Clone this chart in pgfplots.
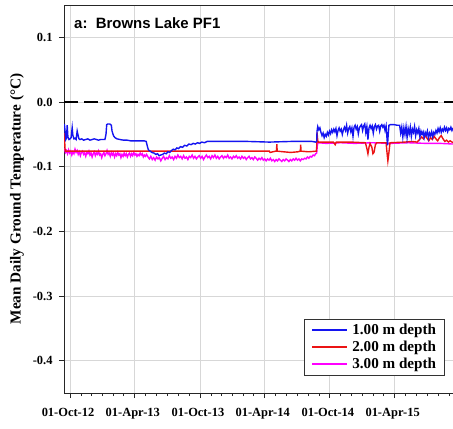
\documentclass[border=0pt]{standalone}
\usepackage{fontspec}
\setmainfont{Liberation Serif}
\newfontfamily\arialfont{Liberation Sans}
\usepackage{pgfplots}
\pgfplotsset{compat=1.18}
\definecolor{gridgray}{RGB}{215,215,215}
\definecolor{sblue}{RGB}{20,20,240}
\definecolor{sred}{RGB}{235,20,20}
\definecolor{smag}{RGB}{255,0,255}
\begin{document}
\begin{tikzpicture}
\useasboundingbox (0,0) rectangle (453bp,429bp);
\begin{axis}[
  at={(64bp,36bp)}, anchor=south west,
  width=389bp, height=388bp, scale only axis,
  xmin=-17, xmax=1076, ymin=-0.45, ymax=0.15,
  axis x line*=bottom, axis y line*=left,
  axis line style={-, black!85, line width=0.9pt},
  xtick={0,182,365,547,730,912},
  xticklabels={01-Oct-12,01-Apr-13,01-Oct-13,01-Apr-14,01-Oct-14,01-Apr-15},
  minor xtick={31,61,92,123,151,212,243,273,304,335,396,426,457,488,516,577,608,638,669,700,761,791,822,853,881,942,973,1003,1034,1065},
  ytick={-0.4,-0.3,-0.2,-0.1,0,0.1},
  yticklabels={-0.4,-0.3,-0.2,-0.1,0.0,0.1},
  tick label style={font=\fontsize{12.5}{14}\selectfont\bfseries},
  yticklabel style={xshift=-3bp},
  xticklabel style={yshift=-6.5bp, xshift=-2bp},
  tick align=outside, major tick length=5bp, minor tick length=3bp,
  tick style={black!85, line width=0.8pt},
  grid=major, major grid style={gridgray, line width=0.8pt},
  ylabel={Mean Daily Ground Temperature (°C)},
  ylabel style={at={(axis description cs:0,0.5)}, anchor=center, yshift=47bp, font=\fontsize{15.3}{17}\selectfont\bfseries},
  legend style={at={(1,0)}, anchor=south east, xshift=-8bp, yshift=17bp,
    draw=black!80, line width=0.8pt, font=\fontsize{15.2}{17}\selectfont\bfseries,
    inner xsep=7bp, inner ysep=2.5bp,
    nodes={text height=10.5bp, text depth=3.5bp, inner sep=1.5bp}},
  legend cell align=left,
  legend image code/.code={\draw[#1, line width=1.8bp] (0bp,0.6bp) -- (35bp,0.6bp); \path (38bp,0bp);},
  reverse legend,
]
\addplot[black, line width=2.6bp, dash pattern=on 14bp off 6bp, forget plot] coordinates {(-17,0) (1076,0)};

% 3.00 m depth
\addplot[smag, line width=1.4bp] coordinates {
(-16,-0.071) (-13,-0.078) (-10,-0.075) (-7,-0.080) (-4,-0.074) (-1,-0.079) (2,-0.076) (5,-0.082) (8,-0.077) (11,-0.080) (14,-0.073) (17,-0.078) (20,-0.075) (23,-0.081) (26,-0.077) (29,-0.083) (32,-0.078) (35,-0.076) (38,-0.081) (41,-0.079) (44,-0.084) (47,-0.078) (50,-0.080) (53,-0.076) (56,-0.082) (59,-0.079) (62,-0.085) (65,-0.080) (68,-0.077) (71,-0.083) (74,-0.079) (77,-0.081) (80,-0.076) (83,-0.082) (86,-0.080) (89,-0.086) (92,-0.081) (95,-0.078) (98,-0.083) (101,-0.080) (104,-0.075) (107,-0.081) (110,-0.079) (113,-0.084) (116,-0.078) (119,-0.082) (122,-0.079) (125,-0.085) (128,-0.080) (131,-0.083) (134,-0.078) (137,-0.082) (140,-0.080) (143,-0.086) (146,-0.081) (149,-0.084) (152,-0.079) (155,-0.083) (158,-0.080) (161,-0.085) (164,-0.081) (167,-0.079) (170,-0.084) (173,-0.080) (176,-0.083) (179,-0.078) (182,-0.082) (185,-0.080) (188,-0.084) (191,-0.081) (194,-0.083) (197,-0.079) (200,-0.082) (203,-0.080) (206,-0.085) (209,-0.082) (212,-0.084) (215,-0.081)
(219,-0.085) (223,-0.088) (227,-0.084) (231,-0.089) (235,-0.086) (239,-0.090) (243,-0.085) (247,-0.088) (251,-0.086) (255,-0.091) (259,-0.087) (263,-0.084) (267,-0.089) (271,-0.086) (275,-0.088) (279,-0.083) (283,-0.087) (287,-0.085) (291,-0.089) (295,-0.084) (299,-0.087) (303,-0.082) (307,-0.086) (311,-0.084) (315,-0.088) (319,-0.083) (323,-0.087) (327,-0.085) (331,-0.089) (335,-0.084) (339,-0.086) (343,-0.082) (347,-0.087) (351,-0.084) (355,-0.088) (359,-0.085) (363,-0.083) (367,-0.087) (371,-0.084) (375,-0.089) (379,-0.085) (383,-0.082) (387,-0.086) (391,-0.084) (395,-0.088) (399,-0.083) (403,-0.086) (407,-0.082) (411,-0.087) (415,-0.084) (419,-0.088) (423,-0.085) (427,-0.083) (431,-0.087) (435,-0.084) (439,-0.086) (443,-0.082) (447,-0.087) (451,-0.085) (455,-0.088) (459,-0.084) (463,-0.086) (467,-0.083) (471,-0.087) (475,-0.085) (479,-0.088)
(483,-0.084) (487,-0.087) (491,-0.085) (495,-0.089) (499,-0.086) (503,-0.084) (507,-0.088) (511,-0.086) (515,-0.089) (519,-0.085) (523,-0.087) (527,-0.090) (531,-0.087) (535,-0.089) (539,-0.086) (543,-0.090) (547,-0.088) (551,-0.091) (555,-0.088) (559,-0.090) (563,-0.087) (567,-0.091) (571,-0.089) (575,-0.092) (579,-0.089) (583,-0.091) (587,-0.088) (591,-0.090) (595,-0.092) (599,-0.089) (603,-0.091) (607,-0.088) (611,-0.090) (615,-0.092) (619,-0.089) (623,-0.091) (627,-0.088) (631,-0.090) (635,-0.087) (639,-0.090) (643,-0.088) (647,-0.091) (651,-0.088) (655,-0.089) (659,-0.087) (663,-0.088) (667,-0.085) (671,-0.087) (675,-0.084) (679,-0.085) (683,-0.082) (687,-0.083) (690,-0.080) (693,-0.079) (695,-0.066) (697,-0.063)
(720,-0.064) (760,-0.063) (800,-0.064) (850,-0.063) (900,-0.064) (950,-0.063) (1000,-0.064) (1040,-0.064) (1076,-0.065)
};
\addlegendentry{3.00 m depth}

% 2.00 m depth
\addplot[sred, line width=1.4bp] coordinates {
(-16,-0.048) (-15,-0.062) (-14,-0.073) (-13,-0.076) (300,-0.076) (560,-0.076) (562,-0.078) (570,-0.077) (578,-0.076) (580,-0.076) (581,-0.065) (582,-0.076) (600,-0.077) (620,-0.078) (640,-0.077) (647,-0.076) (648,-0.066) (649,-0.076) (670,-0.077) (692,-0.076) (693,-0.070) (694,-0.047) (696,-0.060) (698,-0.062)
(700,-0.062) (740,-0.062) (745,-0.066) (748,-0.062) (790,-0.062) (830,-0.063) (834,-0.072) (837,-0.080) (840,-0.070) (843,-0.064) (848,-0.070) (851,-0.080) (854,-0.078) (858,-0.066) (862,-0.063) (888,-0.063) (890,-0.075) (893,-0.091) (896,-0.078) (899,-0.063) (940,-0.062) (960,-0.061)
(975,-0.062) (982,-0.058) (988,-0.054) (993,-0.057) (998,-0.052) (1003,-0.056) (1008,-0.060) (1013,-0.055) (1018,-0.058) (1023,-0.053) (1028,-0.057) (1033,-0.060) (1038,-0.055) (1043,-0.052) (1048,-0.057) (1053,-0.061) (1058,-0.059) (1063,-0.062) (1068,-0.060) (1076,-0.063)
};
\addlegendentry{2.00 m depth}

% 1.00 m depth
\addplot[sblue, line width=1.4bp] coordinates {
(-16,-0.034) (-14,-0.045) (-12,-0.058) (-10,-0.056) (-8,-0.036) (-6,-0.054) (-3,-0.058) (0,-0.057) (3,-0.055) (6,-0.040) (8,-0.052) (11,-0.057) (14,-0.056) (17,-0.058) (20,-0.045) (22,-0.050) (25,-0.057) (28,-0.058) (33,-0.057) (38,-0.059) (44,-0.058) (50,-0.057) (56,-0.059) (62,-0.058) (68,-0.057) (74,-0.058) (80,-0.059) (86,-0.058) (92,-0.058) (98,-0.058) (101,-0.050) (103,-0.035) (106,-0.034) (112,-0.034) (116,-0.036) (118,-0.045) (122,-0.052) (126,-0.055) (132,-0.057) (140,-0.058) (150,-0.059) (160,-0.059) (170,-0.060) (180,-0.060) (190,-0.060) (200,-0.060) (208,-0.060) (214,-0.061)
(217,-0.068) (220,-0.074) (225,-0.076) (230,-0.078) (236,-0.079) (241,-0.081) (246,-0.080) (250,-0.083) (255,-0.082) (260,-0.081) (265,-0.079) (270,-0.080) (275,-0.077) (280,-0.078) (285,-0.075) (290,-0.073) (295,-0.074) (300,-0.071) (305,-0.072) (310,-0.069) (316,-0.070) (322,-0.067) (328,-0.068) (334,-0.065) (340,-0.066) (346,-0.064) (352,-0.065) (358,-0.063) (364,-0.064) (370,-0.062) (378,-0.063) (385,-0.061) (420,-0.061) (500,-0.061) (560,-0.062) (620,-0.061) (680,-0.061) (690,-0.062)
(693,-0.061) (694,-0.045) (696,-0.038) (699,-0.043) (702,-0.040) (705,-0.047) (708,-0.052) (711,-0.048) (714,-0.055) (717,-0.050) (720,-0.053) (723,-0.047) (726,-0.051) (729,-0.045) (732,-0.049) (735,-0.043) (738,-0.047) (741,-0.042) (744,-0.046) (747,-0.041) (750,-0.052) (753,-0.044) (756,-0.040) (759,-0.045) (762,-0.042) (765,-0.050) (768,-0.043) (771,-0.039) (774,-0.044) (777,-0.036) (780,-0.048) (783,-0.041) (786,-0.038) (789,-0.046) (792,-0.040) (795,-0.053) (798,-0.039) (801,-0.036) (804,-0.042) (807,-0.038) (810,-0.049) (813,-0.040) (816,-0.037) (819,-0.035) (822,-0.044) (825,-0.037) (828,-0.034) (831,-0.047) (834,-0.038) (837,-0.058) (840,-0.040) (843,-0.036) (846,-0.041) (849,-0.037) (852,-0.048) (855,-0.038) (858,-0.035) (861,-0.042) (864,-0.037) (867,-0.036) (870,-0.045) (873,-0.037) (876,-0.035) (879,-0.039) (882,-0.036) (885,-0.044) (888,-0.037) (890,-0.052) (892,-0.067) (894,-0.050) (896,-0.036) (900,-0.035) (910,-0.035) (920,-0.036) (926,-0.036)
(929,-0.048) (932,-0.039) (935,-0.054) (938,-0.040) (941,-0.050) (944,-0.038) (947,-0.055) (950,-0.041) (953,-0.049) (956,-0.039) (959,-0.053) (962,-0.042) (965,-0.047) (968,-0.038) (971,-0.052) (974,-0.043) (977,-0.048) (980,-0.041) (983,-0.054) (986,-0.045) (989,-0.050) (992,-0.046) (995,-0.055) (998,-0.047) (1001,-0.051) (1004,-0.045) (1007,-0.056) (1010,-0.048) (1013,-0.052) (1016,-0.046) (1019,-0.054) (1022,-0.047) (1025,-0.050) (1028,-0.044) (1031,-0.048) (1034,-0.041) (1037,-0.046) (1040,-0.040) (1043,-0.047) (1046,-0.042) (1049,-0.045) (1052,-0.039) (1055,-0.044) (1058,-0.040) (1061,-0.046) (1064,-0.041) (1067,-0.043) (1070,-0.039) (1073,-0.044) (1076,-0.040)
};
\addlegendentry{1.00 m depth}

\draw[black!85, line width=0.9pt] (rel axis cs:0,1) -- (rel axis cs:1,1);
\node[anchor=west, inner sep=0pt, font=\arialfont\bfseries\fontsize{15}{17}\selectfont] at (rel axis cs:0.0257,0.9536) {a:\ \ Browns Lake PF1};
\end{axis}
\end{tikzpicture}
\end{document}
